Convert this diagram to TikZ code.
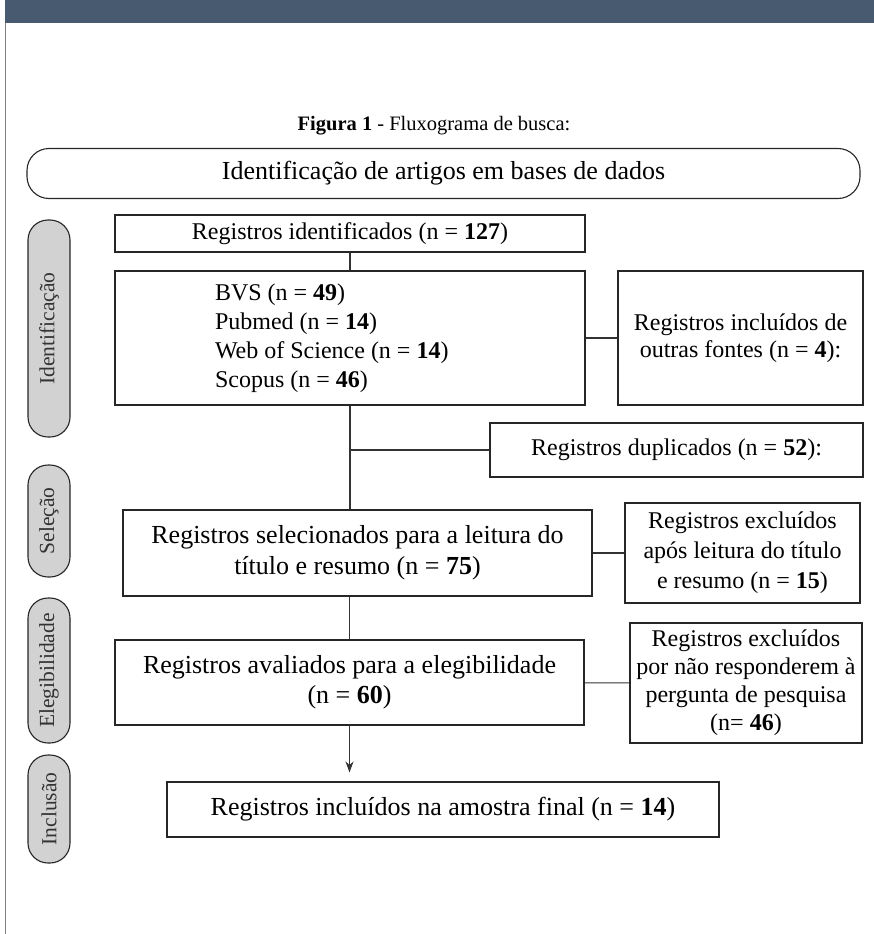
\documentclass[tikz,border=0pt]{standalone}
\usepackage{fontspec}
\setmainfont{Liberation Serif}
\usepackage{xcolor}
\usetikzlibrary{shapes, arrows, arrows.meta}

\definecolor{headerblue}{HTML}{475A6F}
\definecolor{phasegray}{HTML}{D2D2D2}

\begin{document}
\begin{tikzpicture}[x=1pt, y=-1pt]

\tikzstyle{banner} = [rectangle, rounded corners=22pt, draw=black!85, line width=1.1pt, minimum width=833pt, minimum height=50pt, font=\fontsize{26}{30}\selectfont]
\tikzstyle{process} = [rectangle, text centered, draw=black!85, line width=1.1pt, font=\fontsize{24}{29}\selectfont]
\tikzstyle{bigprocess} = [process, font=\fontsize{26}{31}\selectfont]
\tikzstyle{phase} = [rectangle, rounded corners=20pt, draw=black!85, line width=1.1pt, fill=phasegray, minimum height=42pt, text=black!80, rotate=90, font=\fontsize{21.5}{24}\selectfont]
\tikzstyle{line} = [draw=black!80, line width=1.1pt]
\tikzstyle{arrow} = [line, -{Stealth[length=11pt, width=8pt]}]

\useasboundingbox (0,0) rectangle (874,934);
\fill[headerblue] (5,0) rectangle (874,23);
\draw[gray, line width=1pt] (5,23) -- (5,934);

\node (title) at (434,126) [font=\fontsize{20.5}{25}\selectfont] {\textbf{Figura 1} - Fluxograma de busca:};
\node (busca) at (443.5,173.5) [banner] {Identificação de artigos em bases de dados};

\node (ident) at (350,233.5) [process, minimum width=470pt, minimum height=37pt] {Registros identificados (n = \textbf{127})};
\node (sources) at (350,338) [process, minimum width=470pt, minimum height=134pt, text width=270pt, align=flush left] {BVS (n = \textbf{49})\\Pubmed (n = \textbf{14})\\Web of Science (n = \textbf{14})\\Scopus (n = \textbf{46})};
\node (others) at (740.5,338) [process, minimum width=245pt, minimum height=134pt, align=center, font=\fontsize{24}{27}\selectfont] {Registros incluídos de\\outras fontes (n = \textbf{4}):};
\node (dup) at (676.5,450) [process, minimum width=373pt, minimum height=54pt] {Registros duplicados (n = \textbf{52}):};
\node (selec) at (357.5,553) [bigprocess, minimum width=469pt, minimum height=86pt, align=center] {Registros selecionados para a leitura do\\título e resumo (n = \textbf{75})};
\node (excl1) at (742.5,553) [process, minimum width=235pt, minimum height=100pt, align=center, font=\fontsize{24}{30}\selectfont] {Registros excluídos\\após leitura do título\\e resumo (n = \textbf{15})};
\node (eleg) at (349.5,682.5) [bigprocess, minimum width=469pt, minimum height=85pt, align=center, font=\fontsize{26}{30}\selectfont] {Registros avaliados para a elegibilidade\\(n = \textbf{60})};
\node (excl2) at (746,683) [process, minimum width=232pt, minimum height=120pt, align=center, font=\fontsize{24}{28}\selectfont] {Registros excluídos\\por não responderem à\\pergunta de pesquisa\\(n= \textbf{46})};
\node (final) at (443,809.5) [bigprocess, minimum width=552pt, minimum height=55pt] {Registros incluídos na amostra final (n = \textbf{14})};

\node (p1) at (49,328.5) [phase, minimum width=217pt] {Identificação};
\node (p2) at (49,521) [phase, minimum width=112pt] {Seleção};
\node (p3) at (49,670.5) [phase, minimum width=145pt] {Elegibilidade};
\node (p4) at (49,809) [phase, minimum width=108pt] {Inclusão};

\draw [line] (ident) -- (sources);
\draw [line] (sources.south) -- (sources.south |- selec.north);
\draw [line] (sources.south |- dup.west) -- (dup.west);
\draw [line] (sources) -- (others);
\draw [line] (eleg.north |- selec.south) -- (eleg.north);
\draw [line] (selec) -- (excl1);
\draw [line] (eleg) -- (excl2);
\draw [arrow, shorten >=9pt] (eleg.south) -- (eleg.south |- final.north);
\end{tikzpicture}
\end{document}
